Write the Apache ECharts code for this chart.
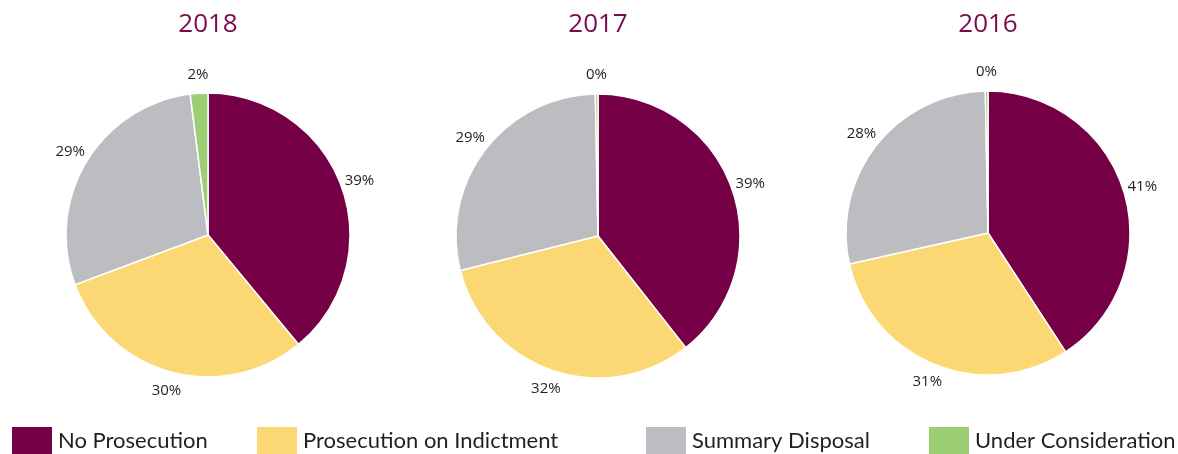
<!DOCTYPE html>
<html>
<head>
<meta charset="utf-8">
<script src="https://cdn.jsdelivr.net/npm/echarts@6/dist/echarts.min.js"></script>
<style>
  html, body { margin: 0; padding: 0; background: #fff; }
  #main { width: 1178px; height: 454px; }
</style>
</head>
<body>
<div id="main"></div>
<script>
// categories and values (percent shares)
var categories = ['No Prosecution', 'Prosecution on Indictment', 'Summary Disposal', 'Under Consideration'];
var years = ['2018', '2017', '2016'];
var values2018 = [39.0, 30.3, 28.7, 2.0];
var values2017 = [39.4, 31.7, 28.6, 0.3];
var values2016 = [40.8, 30.7, 28.2, 0.3];
var colors = ['#760046', '#fcd874', '#bcbdc0', '#9ccf74'];

var chart = echarts.init(document.getElementById('main'));

var centers = [[208, 235], [598, 236], [988, 233]];
var allValues = [values2018, values2017, values2016];

function pieData(i) {
  return categories.map(function (c, k) {
    return { name: c, value: allValues[i][k] };
  });
}

function makePie(i) {
  return {
    type: 'pie',
    center: centers[i],
    radius: 142,
    startAngle: 90,
    clockwise: true,
    itemStyle: { borderColor: '#fff', borderWidth: 1.5 },
    label: { show: false },
    labelLine: { show: false },
    emphasis: { disabled: true },
    data: pieData(i)
  };
}

// transparent ring carrying the % labels, centred just outside each slice
function makeLabelRing(i) {
  return {
    type: 'pie',
    center: centers[i],
    radius: [148, 168],
    startAngle: 90,
    clockwise: true,
    silent: true,
    itemStyle: { color: 'rgba(0,0,0,0)', borderWidth: 0 },
    label: {
      show: true,
      position: 'inside',
      color: '#231f20',
      fontSize: 15,
      fontFamily: 'Open Sans',
      formatter: function (p) { return Math.round(p.value) + '%'; }
    },
    labelLine: { show: false },
    emphasis: { disabled: true },
    data: pieData(i)
  };
}

var legendLefts = [10, 255, 644, 927];
var legends = categories.map(function (c, k) {
  return {
    data: [c],
    left: legendLefts[k],
    top: 425,
    padding: 0,
    itemWidth: 42,
    itemHeight: 30,
    itemGap: 0,
    icon: 'rect',
    selectedMode: false,
    textStyle: { fontSize: 22, color: '#231f20', fontFamily: 'Lato', padding: [4, 0, 0, 0] }
  };
});

chart.setOption({
  color: colors,
  animation: false,
  title: years.map(function (y, i) {
    return {
      text: y,
      left: centers[i][0],
      top: 12,
      padding: 0,
      textAlign: 'center',
      textStyle: { color: '#7a0a4b', fontSize: 26, fontWeight: 'normal', fontFamily: 'Open Sans' }
    };
  }),
  legend: legends,
  series: [makePie(0), makePie(1), makePie(2), makeLabelRing(0), makeLabelRing(1), makeLabelRing(2)]
});
</script>
</body>
</html>
